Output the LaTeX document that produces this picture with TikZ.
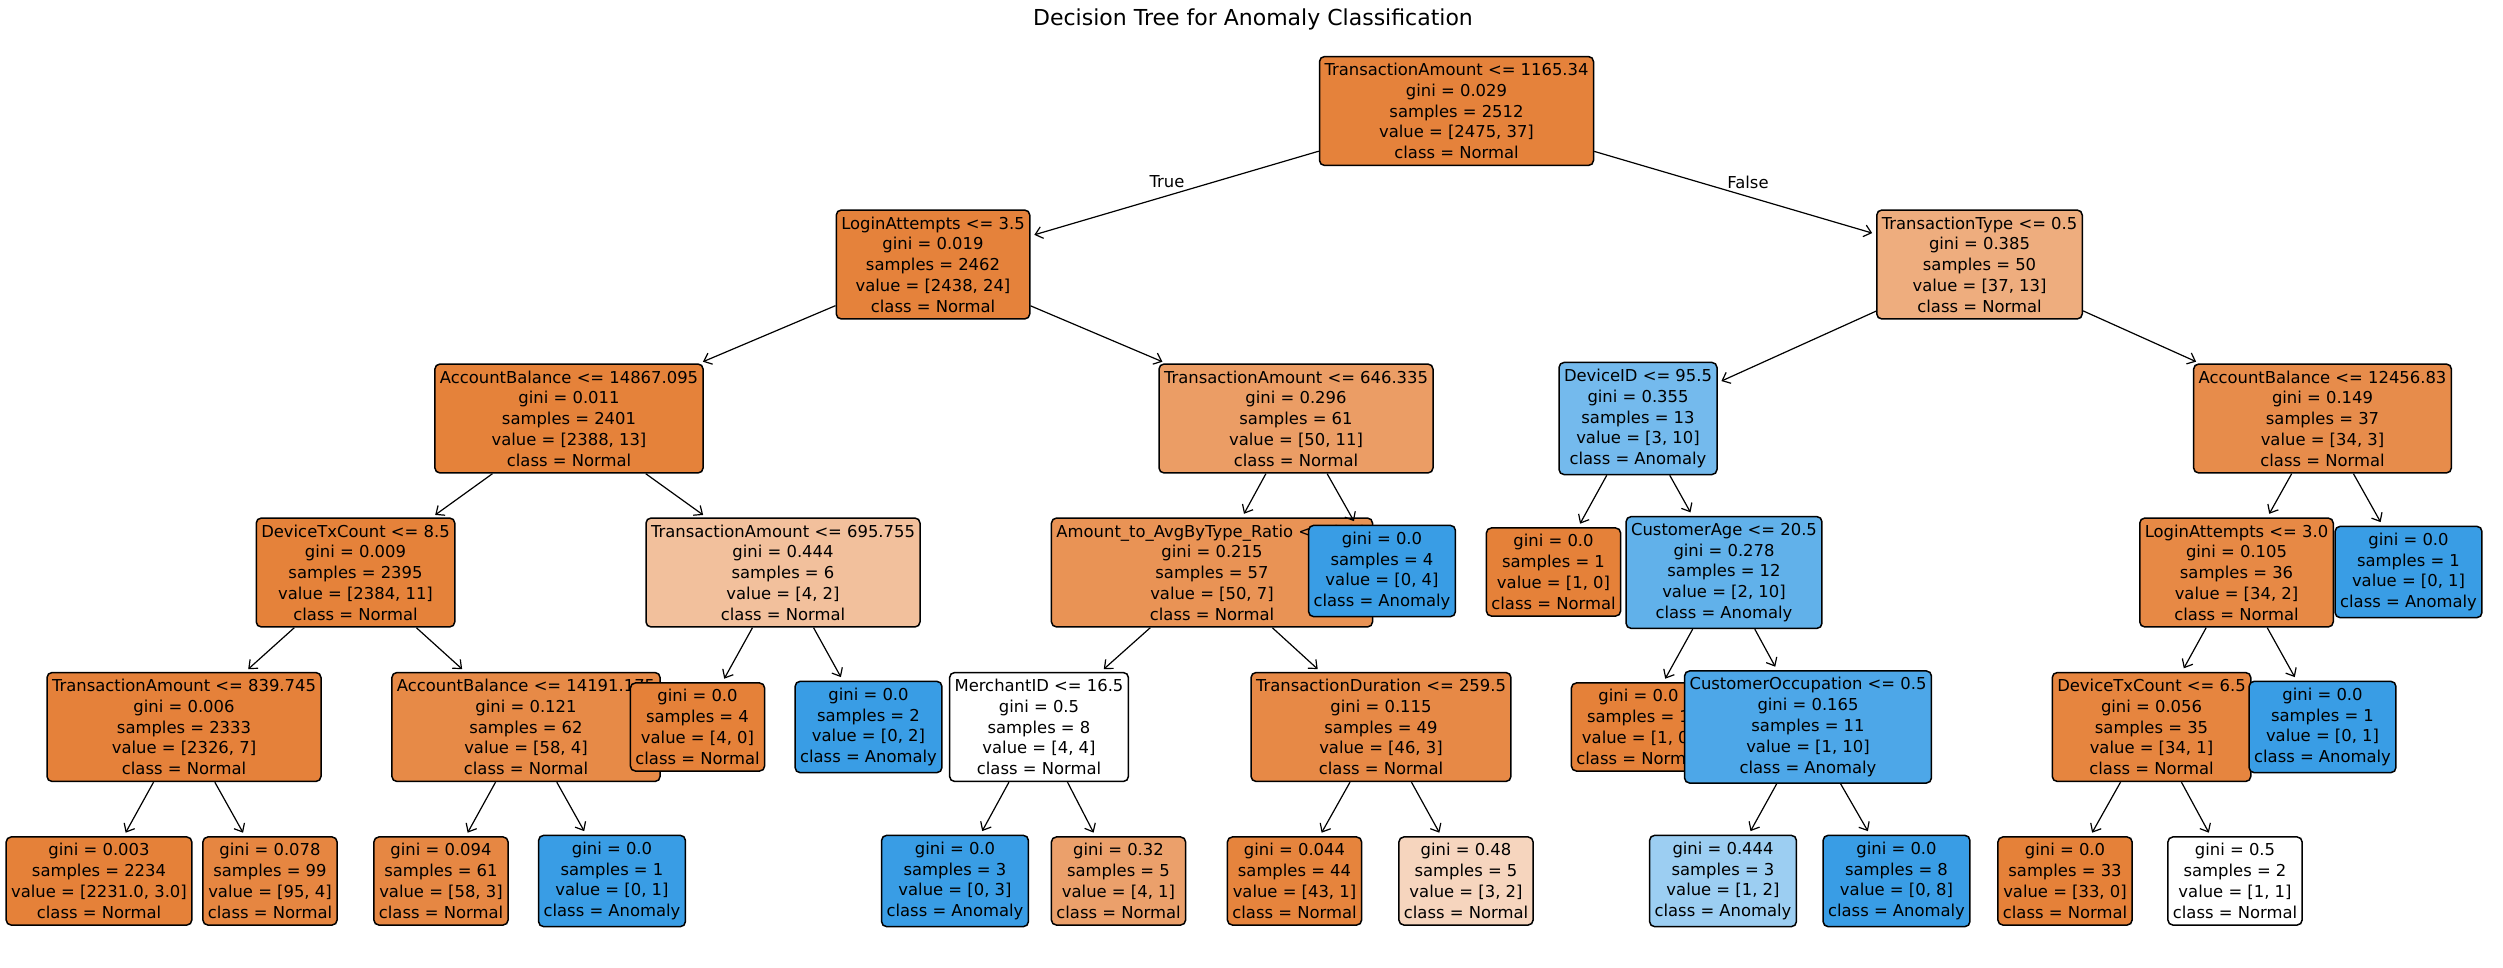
\documentclass[tikz,border=0pt]{standalone}
\usepackage{fontspec}
\setmainfont{DejaVu Sans}
\usetikzlibrary{arrows.meta}
\definecolor{normalc}{HTML}{E58139}
\definecolor{anomc}{HTML}{399DE5}

\begin{document}
\begin{tikzpicture}[x=1pt, y=-1pt,
					>={Straight Barb[length=7pt,width=12pt]},
					%>=stealth',
					tree node/.style={rectangle, rounded corners=5pt, draw=black, line width=1.5pt,
						align=center, inner xsep=5pt, inner ysep=6.5pt,
						font=\fontsize{16.4}{20.8}\selectfont},
					tree edge/.style={->, line width=1.2pt, shorten >=4pt},
					lbl/.style={font=\fontsize{16.4}{20.8}\selectfont}]

  \useasboundingbox (0,0) rectangle (2503,968);

  \node[font=\fontsize{22}{26}\selectfont] (title) at (1253,19) {Decision Tree for Anomaly Classification};

  % level 0 and 1
  \node[tree node, fill=normalc!99] (root) at (1456.5,111) {TransactionAmount <= 1165.34\\gini = 0.029\\samples = 2512\\value = [2475, 37]\\class = Normal};
  \node[tree node, fill=normalc!99] (la35) at (933,264.5) {LoginAttempts <= 3.5\\gini = 0.019\\samples = 2462\\value = [2438, 24]\\class = Normal};

  % left half
  \node[tree node, fill=normalc!99.5] (ab148) at (569,418.5) {AccountBalance <= 14867.095\\gini = 0.011\\samples = 2401\\value = [2388, 13]\\class = Normal};
  \node[tree node, fill=normalc!99.5] (dtc85) at (355.5,572.5) {DeviceTxCount <= 8.5\\gini = 0.009\\samples = 2395\\value = [2384, 11]\\class = Normal};
  \node[tree node, fill=normalc!99.7] (ta839) at (184,727) {TransactionAmount <= 839.745\\gini = 0.006\\samples = 2333\\value = [2326, 7]\\class = Normal};
  \node[tree node, fill=normalc!99.9] (lfa) at (99,881) {gini = 0.003\\samples = 2234\\value = [2231.0, 3.0]\\class = Normal};
  \node[tree node, fill=normalc!96] (lfb) at (270,881) {gini = 0.078\\samples = 99\\value = [95, 4]\\class = Normal};
  \node[tree node, fill=normalc!93] (ab141) at (526,727) {AccountBalance <= 14191.175\\gini = 0.121\\samples = 62\\value = [58, 4]\\class = Normal};
  \node[tree node, fill=normalc!95] (lfc) at (441,881) {gini = 0.094\\samples = 61\\value = [58, 3]\\class = Normal};
  \node[tree node, fill=anomc] (lfd) at (612,881) {gini = 0.0\\samples = 1\\value = [0, 1]\\class = Anomaly};
  \node[tree node, fill=normalc!50] (ta695) at (783,572.5) {TransactionAmount <= 695.755\\gini = 0.444\\samples = 6\\value = [4, 2]\\class = Normal};
  \node[tree node, fill=normalc] (lfe) at (697.5,727) {gini = 0.0\\samples = 4\\value = [4, 0]\\class = Normal};
  \node[tree node, fill=anomc] (lff) at (868.5,727) {gini = 0.0\\samples = 2\\value = [0, 2]\\class = Anomaly};
  \node[tree node, fill=normalc!78] (ta646) at (1296,418.5) {TransactionAmount <= 646.335\\gini = 0.296\\samples = 61\\value = [50, 11]\\class = Normal};
  \node[tree node, fill=normalc!86] (ratio) at (1212,572.5) {Amount\_to\_AvgByType\_Ratio <= 0.39\\gini = 0.215\\samples = 57\\value = [50, 7]\\class = Normal};
  \node[tree node, fill=white] (merch) at (1039,727) {MerchantID <= 16.5\\gini = 0.5\\samples = 8\\value = [4, 4]\\class = Normal};
  \node[tree node, fill=anomc] (lfg) at (955,881) {gini = 0.0\\samples = 3\\value = [0, 3]\\class = Anomaly};
  \node[tree node, fill=normalc!75] (lfh) at (1118.5,881) {gini = 0.32\\samples = 5\\value = [4, 1]\\class = Normal};
  \node[tree node, fill=normalc!93.5] (tdur) at (1381,727) {TransactionDuration <= 259.5\\gini = 0.115\\samples = 49\\value = [46, 3]\\class = Normal};
  \node[tree node, fill=normalc!98] (lfi) at (1294.5,881) {gini = 0.044\\samples = 44\\value = [43, 1]\\class = Normal};
  \node[tree node, fill=normalc!33] (lfj) at (1466,881) {gini = 0.48\\samples = 5\\value = [3, 2]\\class = Normal};
  \node[tree node, fill=anomc] (lfk) at (1382,571) {gini = 0.0\\samples = 4\\value = [0, 4]\\class = Anomaly};

  % right half
  \node[tree node, fill=normalc!65] (ttype) at (1979.5,264.5) {TransactionType <= 0.5\\gini = 0.385\\samples = 50\\value = [37, 13]\\class = Normal};
  \node[tree node, fill=anomc!70] (devid) at (1638,418.5) {DeviceID <= 95.5\\gini = 0.355\\samples = 13\\value = [3, 10]\\class = Anomaly};
  \node[tree node, fill=normalc] (lfl) at (1553.5,572) {gini = 0.0\\samples = 1\\value = [1, 0]\\class = Normal};
  \node[tree node, fill=anomc!80] (cage) at (1724,572.5) {CustomerAge <= 20.5\\gini = 0.278\\samples = 12\\value = [2, 10]\\class = Anomaly};
  \node[tree node, fill=normalc] (lfm) at (1638.5,727) {gini = 0.0\\samples = 1\\value = [1, 0]\\class = Normal};
  \node[tree node, fill=anomc!90] (cocc) at (1808,727) {CustomerOccupation <= 0.5\\gini = 0.165\\samples = 11\\value = [1, 10]\\class = Anomaly};
  \node[tree node, fill=anomc!50] (lfn) at (1723,881) {gini = 0.444\\samples = 3\\value = [1, 2]\\class = Anomaly};
  \node[tree node, fill=anomc] (lfo) at (1896.5,881) {gini = 0.0\\samples = 8\\value = [0, 8]\\class = Anomaly};
  \node[tree node, fill=normalc!91] (ab124) at (2322.5,418.5) {AccountBalance <= 12456.83\\gini = 0.149\\samples = 37\\value = [34, 3]\\class = Normal};
  \node[tree node, fill=normalc!94] (la30) at (2236.5,572.5) {LoginAttempts <= 3.0\\gini = 0.105\\samples = 36\\value = [34, 2]\\class = Normal};
  \node[tree node, fill=normalc!97] (dtc65) at (2151.5,727) {DeviceTxCount <= 6.5\\gini = 0.056\\samples = 35\\value = [34, 1]\\class = Normal};
  \node[tree node, fill=normalc] (lfp) at (2065,881) {gini = 0.0\\samples = 33\\value = [33, 0]\\class = Normal};
  \node[tree node, fill=white] (lfq) at (2235,881) {gini = 0.5\\samples = 2\\value = [1, 1]\\class = Normal};
  \node[tree node, fill=anomc] (lfr) at (2322.5,727) {gini = 0.0\\samples = 1\\value = [0, 1]\\class = Anomaly};
  \node[tree node, fill=anomc] (lfs) at (2408.5,572) {gini = 0.0\\samples = 1\\value = [0, 1]\\class = Anomaly};

  \node[lbl] (truelbl) at (1167,182) {True};
  \node[lbl] (falselbl) at (1748,182) {False};

  \path[tree edge]
    (root) edge (la35) edge (ttype)
    (la35) edge (ab148) edge (ta646)
    (ab148) edge (dtc85) edge (ta695)
    (dtc85) edge (ta839) edge (ab141)
    (ta839) edge (lfa) edge (lfb)
    (ab141) edge (lfc) edge (lfd)
    (ta695) edge (lfe) edge (lff)
    (ta646) edge (ratio) edge (lfk)
    (ratio) edge (merch) edge (tdur)
    (merch) edge (lfg) edge (lfh)
    (tdur) edge (lfi) edge (lfj)
    (ttype) edge (devid) edge (ab124)
    (devid) edge (lfl) edge (cage)
    (cage) edge (lfm) edge (cocc)
    (cocc) edge (lfn) edge (lfo)
    (ab124) edge (la30) edge (lfs)
    (la30) edge (dtc65) edge (lfr)
    (dtc65) edge (lfp) edge (lfq);
\end{tikzpicture}
\end{document}
